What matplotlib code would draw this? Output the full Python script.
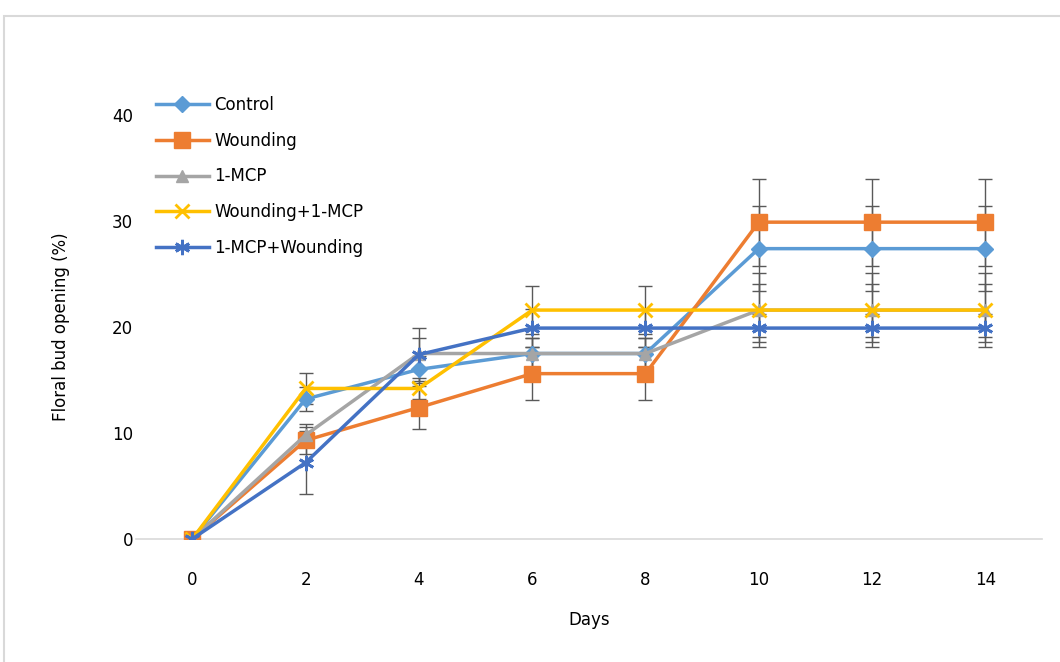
import matplotlib
matplotlib.use("Agg")
import matplotlib.pyplot as plt
from matplotlib.patches import Rectangle

# ---------- data ----------
days = [0, 2, 4, 6, 8, 10, 12, 14]

control = [0, 13.2, 16.0, 17.5, 17.5, 27.4, 27.4, 27.4]
wounding = [0, 9.3, 12.4, 15.6, 15.6, 29.9, 29.9, 29.9]
mcp = [0, 9.8, 17.5, 17.5, 17.5, 21.6, 21.6, 21.6]
wound_mcp = [0, 14.2, 14.2, 21.6, 21.6, 21.6, 21.6, 21.6]
mcp_wound = [0, 7.2, 17.4, 19.9, 19.9, 19.9, 19.9, 19.9]

control_err = [0, 1.1, 1.3, 1.5, 1.5, 4.0, 4.0, 4.0]
wounding_err = [0, 1.3, 2.0, 2.5, 2.5, 4.1, 4.1, 4.1]
mcp_err = [0, 1.0, 1.5, 1.5, 1.5, 3.5, 3.5, 3.5]
wound_mcp_err = [0, 1.5, 1.0, 2.3, 2.3, 2.5, 2.5, 2.5]
mcp_wound_err = [0, 3.0, 2.5, 1.8, 1.8, 1.3, 1.3, 1.3]

labels = ["Control", "Wounding", "1-MCP", "Wounding+1-MCP", "1-MCP+Wounding"]
series = [control, wounding, mcp, wound_mcp, mcp_wound]
errors = [control_err, wounding_err, mcp_err, wound_mcp_err, mcp_wound_err]
colors = ["#5B9BD5", "#ED7D31", "#A5A5A5", "#FFC000", "#4472C4"]
markers = ["D", "s", "^", "x", (6, 2, 0)]
msizes = [8, 11, 9, 10, 11]

# ---------- plot ----------
fig = plt.figure(figsize=(10.6, 6.62), dpi=100)
fig.patches.append(Rectangle((4 / 1060, -0.05), 1.2, 1 - 16 / 662 + 0.05,
                             transform=fig.transFigure, fill=False,
                             edgecolor="#D9D9D9", lw=1.5))
ax = fig.add_axes([0.128, 0.186, 0.855, 0.640])

for y, e, c, m, ms, lab in zip(series, errors, colors, markers, msizes, labels):
    ax.errorbar(days, y, yerr=e, fmt="none", ecolor="#595959", elinewidth=1,
                capsize=5, capthick=1, zorder=2)
    mew = 2 if m in ("x", (6, 2, 0)) else 1
    ax.plot(days, y, color=c, lw=2.5, marker=m, ms=ms, mfc=c, mec=c,
            mew=mew, label=lab, zorder=3)

ax.set_xlim(-1, 15)
ax.set_ylim(0, 40)
ax.set_xticks(days)
ax.set_yticks([0, 10, 20, 30, 40])
for s in ["top", "right", "left"]:
    ax.spines[s].set_visible(False)
ax.spines["bottom"].set_color("#D9D9D9")
ax.spines["bottom"].set_linewidth(1.2)
ax.tick_params(axis="both", length=0, labelsize=12, colors="#000000")
ax.tick_params(axis="x", pad=23)
ax.tick_params(axis="y", pad=2)
ax.set_xlabel("Days", fontsize=12, labelpad=16)
ax.set_ylabel("Floral bud opening (%)", fontsize=12, labelpad=30)

leg = ax.legend(loc="upper left", bbox_to_anchor=(149 / 1060, 1 - 89 / 662),
                bbox_transform=fig.transFigure, frameon=False, fontsize=12,
                labelspacing=1.07, handlelength=3.2, handletextpad=0.3,
                borderaxespad=0)

fig.savefig("out.png", dpi=100)
